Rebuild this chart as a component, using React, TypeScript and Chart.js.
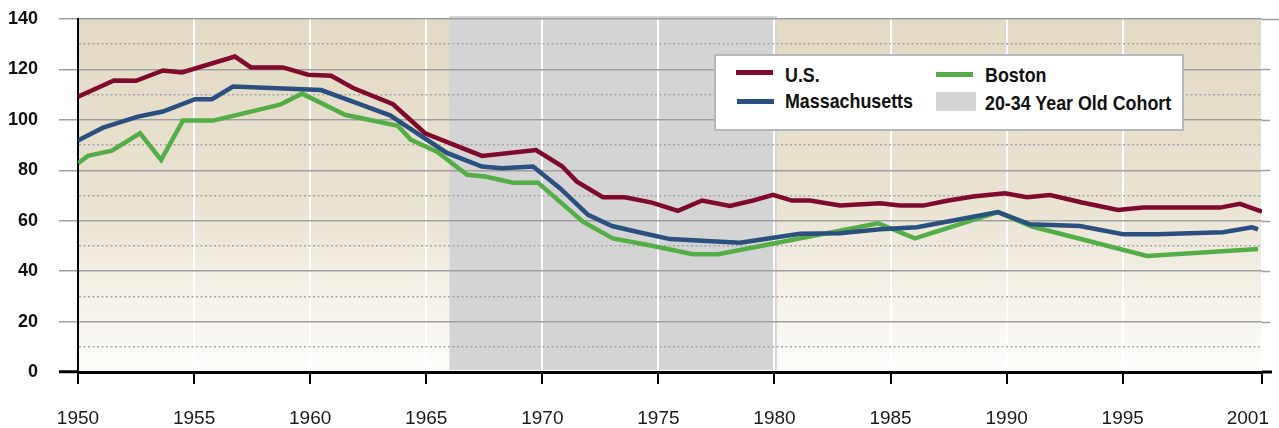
import React, { useEffect, useRef } from 'react';
import { Chart, registerables } from 'chart.js';

Chart.register(...registerables);

// ---------- Data ----------
const usYears = [1950, 1951.55, 1952.5, 1953.66, 1954.48, 1956.76, 1957.45, 1958.83, 1959.91, 1960.9, 1961.85, 1963.57, 1964.95, 1967.4, 1969.73, 1970.85, 1971.49, 1972.61, 1973.56, 1974.72, 1975.84, 1976.88, 1978.08, 1979.03, 1979.94, 1980.75, 1981.53, 1982.82, 1984.55, 1985.41, 1986.4, 1987.43, 1988.55, 1989.93, 1990.88, 1991.87, 1993.25, 1994.8, 1995.87, 1999.19, 2000.05, 2001];
const usValues = [109.2, 115.6, 115.5, 119.6, 118.8, 125.1, 120.8, 120.8, 117.9, 117.5, 112.6, 106.2, 94.7, 85.7, 88.0, 81.6, 75.5, 69.3, 69.3, 67.2, 63.9, 68.0, 65.9, 67.9, 70.3, 68.0, 68.0, 66.0, 66.9, 66.0, 66.0, 67.9, 69.6, 70.9, 69.3, 70.2, 67.2, 64.3, 65.2, 65.2, 66.7, 63.6];

const maYears = [1950, 1951.08, 1952.58, 1953.66, 1955.04, 1955.77, 1956.68, 1960.47, 1961.72, 1963.44, 1965.89, 1967.4, 1968.26, 1969.6, 1970.76, 1971.97, 1973.0, 1974.21, 1975.5, 1977.09, 1978.51, 1981.1, 1982.82, 1984.55, 1986.14, 1987.99, 1989.63, 1991.0, 1993.16, 1995.01, 1996.48, 1999.32, 2000.57, 2000.83];
const maValues = [91.8, 96.9, 101.3, 103.3, 108.2, 108.2, 113.2, 111.8, 107.6, 101.8, 86.9, 81.5, 80.8, 81.5, 72.9, 62.3, 57.9, 55.3, 52.7, 52.0, 51.3, 54.8, 55.0, 56.6, 57.4, 60.6, 63.4, 58.6, 57.9, 54.6, 54.6, 55.4, 57.4, 56.6];

const bostonYears = [1950, 1950.43, 1951.46, 1952.67, 1953.58, 1954.52, 1955.81, 1956.68, 1958.7, 1959.65, 1961.5, 1963.78, 1964.34, 1965.46, 1966.76, 1967.53, 1968.74, 1969.81, 1971.75, 1973.04, 1974.77, 1976.49, 1977.57, 1984.46, 1986.05, 1989.63, 1991.09, 1996.05, 2000.83];
const bostonValues = [82.8, 85.7, 87.8, 94.7, 84.1, 99.7, 99.7, 101.6, 106.0, 110.4, 102.0, 97.6, 92.1, 87.4, 78.2, 77.5, 75.1, 75.1, 59.6, 53.0, 50.0, 46.7, 46.7, 59.0, 53.0, 63.4, 57.7, 46.0, 48.8];

const cohortRange = [1966, 1980.1];
const xTickYears = [1950, 1955, 1960, 1965, 1970, 1975, 1980, 1985, 1990, 1995, 2001];
const yRange = [0, 140];

const seriesLabels = ['U.S.', 'Massachusetts', 'Boston'];
const cohortLabel = '20-34 Year Old Cohort';

// ---------- Styles ----------
const COLORS = { us: '#7e0a2c', ma: '#29507f', boston: '#55ad47', band: '#d4d4d4' };
const FONT = "'Liberation Sans', Arial, sans-serif";

const toPoints = (xs: number[], ys: number[]) => xs.map((x, i) => ({ x, y: ys[i] }));
const isMajor = (v: number) => v % 20 === 0;

const backgroundPlugin = {
  id: 'bgPlugin',
  beforeDraw(chart: any) {
    const { ctx, chartArea: a, scales } = chart;
    ctx.save();
    const g = ctx.createLinearGradient(0, a.top, 0, a.bottom);
    g.addColorStop(0, '#e2dac4');
    g.addColorStop(0.5, '#e9e2d1');
    g.addColorStop(1, '#fefdfb');
    ctx.fillStyle = g;
    ctx.fillRect(a.left, a.top, a.right - a.left, a.bottom - a.top);
    const x0 = scales.x.getPixelForValue(cohortRange[0]);
    const x1 = scales.x.getPixelForValue(cohortRange[1]);
    ctx.fillStyle = COLORS.band;
    ctx.fillRect(x0, a.top - 3, x1 - x0, a.bottom - a.top + 1);
    ctx.restore();

    // last x label ("2001") sits flush against the axis end, as in the original
    const xs = chart.scales.x;
    const items = xs.getLabelItems();
    if (items && items.length) {
      const it = items[items.length - 1];
      it.options.textAlign = 'right';
      it.options.translation[0] = xs.right + 7;
    }
  },
  beforeDatasetsDraw(chart: any) {
    // short extensions of the axis line and the major grid lines past the plot's right edge
    const { ctx, chartArea: a, scales } = chart;
    ctx.save();
    ctx.strokeStyle = '#9f9f9f';
    ctx.lineWidth = 1.5;
    for (let v = yRange[0] + 20; v <= yRange[1]; v += 20) {
      const y = Math.round(scales.y.getPixelForValue(v)) + 0.5;
      ctx.beginPath();
      ctx.moveTo(a.right, y);
      ctx.lineTo(a.right + (v === yRange[1] ? 17 : 8), y);
      ctx.stroke();
    }
    ctx.strokeStyle = '#000';
    ctx.lineWidth = 3;
    const yb = scales.y.getPixelForValue(0);
    ctx.beginPath();
    ctx.moveTo(a.right, yb);
    ctx.lineTo(a.right + 10, yb);
    ctx.stroke();
    ctx.restore();
  },
};

export default function App() {
  const ref = useRef<HTMLCanvasElement | null>(null);

  useEffect(() => {
    if (!ref.current) return;
    const chart = new Chart(ref.current, {
      type: 'line',
      data: {
        datasets: [
          { label: seriesLabels[0], data: toPoints(usYears, usValues), borderColor: COLORS.us },
          { label: seriesLabels[1], data: toPoints(maYears, maValues), borderColor: COLORS.ma },
          { label: seriesLabels[2], data: toPoints(bostonYears, bostonValues), borderColor: COLORS.boston },
        ].map((d) => ({ ...d, borderWidth: 4.5, pointRadius: 0, tension: 0, fill: false })),
      },
      options: {
        responsive: false,
        animation: false,
        devicePixelRatio: 1,
        layout: { padding: { top: 19, right: 17, left: 0, bottom: 0 } },
        plugins: { legend: { display: false }, tooltip: { enabled: false } },
        scales: {
          x: {
            type: 'linear',
            min: 1950,
            max: 2001,
            afterBuildTicks: (s: any) => {
              s.ticks = xTickYears.map((v) => ({ value: v }));
            },
            afterFit: (s: any) => {
              s.height = 56;
              s.paddingLeft = 0;
              s.paddingRight = 0;
            },
            ticks: {
              autoSkip: false,
              maxRotation: 0,
              padding: 23,
              color: '#1a1a1a',
              font: { family: FONT, size: 19 },
              callback: (v: any) => String(v),
            },
            grid: { color: '#ffffff', lineWidth: 2, tickColor: '#000000', tickLength: 12, tickWidth: 2 },
            border: { color: '#000000', width: 3 },
          },
          y: {
            min: yRange[0],
            max: yRange[1],
            afterFit: (s: any) => {
              s.width = 78;
              s.paddingTop = 0;
              s.paddingBottom = 0;
            },
            ticks: {
              stepSize: 10,
              autoSkip: false,
              padding: 21,
              color: '#111111',
              font: { family: FONT, size: 18, weight: 'bold' },
              callback: (v: any) => (isMajor(Number(v)) ? String(v) : ''),
            },
            grid: {
              tickLength: 19,
              color: (c: any) => (c.tick && isMajor(c.tick.value) ? '#9f9f9f' : '#a5a5a5'),
              lineWidth: 1.5,
              tickColor: (c: any) =>
                c.tick && c.tick.value === 0 ? '#000000' : c.tick && isMajor(c.tick.value) ? '#9f9f9f' : 'rgba(0,0,0,0)',
              tickWidth: (c: any) => (c.tick && c.tick.value === 0 ? 3 : 1.5),
            },
            border: {
              color: '#000000',
              width: 2,
              dash: (c: any) => (c.tick && !isMajor(c.tick.value) ? [2, 2.5] : []),
            },
          },
        },
      } as any,
      plugins: [backgroundPlugin],
    });
    return () => chart.destroy();
  }, []);

  const textStyle: React.CSSProperties = {
    position: 'absolute',
    fontFamily: FONT,
    fontWeight: 'bold',
    fontSize: 21,
    lineHeight: '24px',
    color: '#111',
    whiteSpace: 'nowrap',
    transform: 'scaleX(0.85)',
    transformOrigin: 'left center',
  };
  const swatch = (left: number, top: number, color: string): React.CSSProperties => ({
    position: 'absolute', left, top, width: 37, height: 4.5, background: color,
  });

  return (
    <div style={{ position: 'absolute', left: 0, top: 0, width: 1279, height: 428, background: '#fff' }}>
      <canvas ref={ref} width={1279} height={428} style={{ display: 'block', width: 1279, height: 428 }} />
      <div
        style={{
          position: 'absolute', left: 714, top: 54, width: 470, height: 77, boxSizing: 'border-box',
          background: '#fff', border: '2px solid #b8b8b8',
        }}
      >
        <div style={swatch(20, 14, COLORS.us)} />
        <div style={{ ...textStyle, left: 69, top: 6.5 }}>{seriesLabels[0]}</div>
        <div style={swatch(21, 43, COLORS.ma)} />
        <div style={{ ...textStyle, left: 69, top: 33 }}>{seriesLabels[1]}</div>
        <div style={swatch(220, 16, COLORS.boston)} />
        <div style={{ ...textStyle, left: 269, top: 7 }}>{seriesLabels[2]}</div>
        <div style={{ position: 'absolute', left: 220, top: 36, width: 40, height: 19, background: COLORS.band }} />
        <div style={{ ...textStyle, left: 269, top: 35 }}>{cohortLabel}</div>
      </div>
    </div>
  );
}
